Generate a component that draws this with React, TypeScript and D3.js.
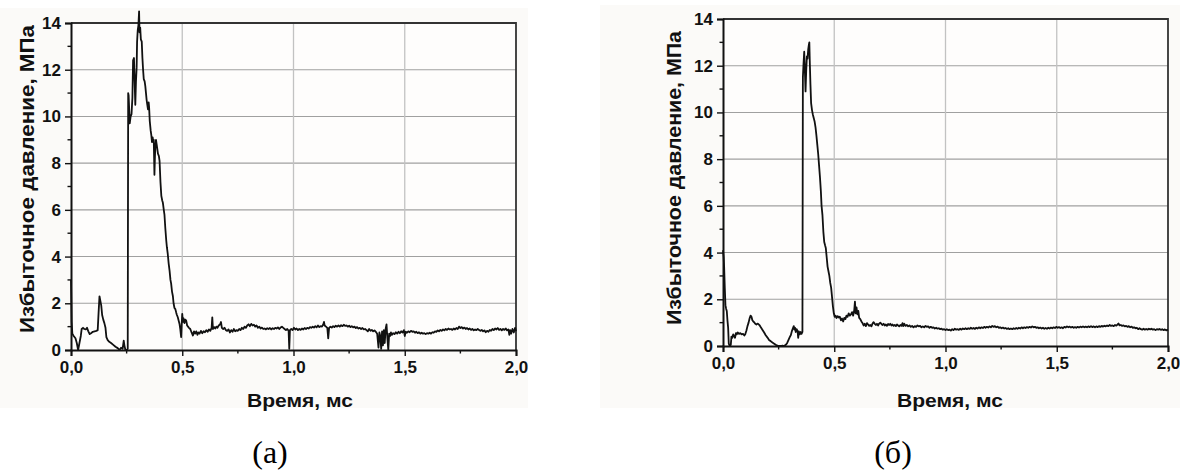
import * as d3 from "d3";
import { useEffect, useRef } from "react";

// time (ms), overpressure (MPa) pairs
const seriesA: [number, number][] = [
  [0, 3.0], [0.003, 1.2], [0.006, 0.7], [0.012, 0.6], [0.02, 0.5], [0.026, 0.3], [0.032, 0.0], [0.038, 0.3],
  [0.044, 0.6], [0.048, 0.9], [0.054, 0.95], [0.06, 0.9], [0.066, 0.88], [0.072, 0.95], [0.078, 0.8], [0.084, 0.68],
  [0.09, 0.72], [0.098, 0.78], [0.106, 0.8], [0.114, 0.82], [0.12, 0.85], [0.124, 1.6], [0.128, 2.3], [0.132, 2.1],
  [0.136, 1.9], [0.14, 1.5], [0.145, 1.3], [0.15, 1.15], [0.155, 0.95], [0.159, 0.55], [0.165, 0.42], [0.172, 0.35],
  [0.18, 0.3], [0.19, 0.22], [0.2, 0.14], [0.21, 0.08], [0.218, 0.0], [0.225, 0.1], [0.232, 0.05], [0.237, 0.4],
  [0.24, 0.2], [0.244, 0.02], [0.25, 0.0], [0.255, 0.05],
  [0.257, 11.0], [0.259, 10.9], [0.262, 10.2], [0.264, 9.7], [0.268, 10.0], [0.272, 10.1], [0.276, 10.8], [0.279, 12.4],
  [0.283, 12.5], [0.286, 11.5], [0.289, 10.5], [0.292, 11.5], [0.295, 12.1], [0.297, 13.2], [0.3, 13.7], [0.303, 13.9],
  [0.306, 14.5], [0.308, 13.6], [0.311, 13.8], [0.314, 13.3], [0.318, 13.2], [0.321, 12.5], [0.324, 12.0], [0.327, 11.6],
  [0.331, 11.5], [0.334, 11.3], [0.337, 11.0], [0.34, 10.7], [0.343, 10.5], [0.346, 10.3], [0.349, 10.6], [0.351, 10.4],
  [0.354, 9.8], [0.358, 9.4], [0.361, 9.2], [0.364, 8.9], [0.367, 9.1], [0.37, 8.9], [0.372, 9.0], [0.375, 7.5],
  [0.377, 8.2], [0.379, 8.7], [0.382, 9.0], [0.385, 8.8], [0.388, 8.6], [0.391, 8.4], [0.395, 8.3], [0.398, 8.1],
  [0.402, 7.2], [0.406, 6.6], [0.41, 6.4], [0.413, 6.3], [0.417, 6.0], [0.42, 5.8], [0.424, 5.2], [0.428, 4.7],
  [0.431, 4.4], [0.435, 4.1], [0.439, 3.7], [0.443, 3.4], [0.447, 3.0], [0.45, 2.85], [0.454, 2.5], [0.458, 2.3],
  [0.461, 2.0], [0.465, 1.8], [0.469, 1.75], [0.473, 1.6], [0.476, 1.5], [0.48, 1.4], [0.484, 1.25], [0.488, 1.1],
  [0.491, 0.9], [0.495, 0.55], [0.498, 1.2], [0.5, 1.55], [0.503, 1.2], [0.506, 1.35], [0.51, 1.15], [0.514, 1.3],
  [0.518, 1.25], [0.522, 1.05], [0.526, 1.0], [0.53, 0.95], [0.536, 0.9], [0.542, 0.75], [0.548, 0.62], [0.553, 0.8],
  [0.558, 0.7], [0.563, 0.8], [0.568, 0.65], [0.573, 0.75], [0.578, 0.7], [0.584, 0.82], [0.59, 0.72], [0.596, 0.8],
  [0.602, 0.76], [0.608, 0.85], [0.614, 0.78], [0.62, 0.88], [0.626, 0.82], [0.632, 0.95], [0.635, 1.4], [0.638, 0.9],
  [0.643, 0.98], [0.648, 0.92], [0.653, 1.0], [0.658, 0.95], [0.664, 1.05], [0.67, 1.1], [0.674, 1.2], [0.678, 0.95],
  [0.684, 0.9], [0.69, 0.95], [0.696, 0.85], [0.702, 0.82], [0.708, 0.88], [0.714, 0.75], [0.72, 0.85], [0.726, 0.78],
  [0.732, 0.9], [0.738, 0.8], [0.744, 0.85], [0.75, 0.82], [0.756, 0.9], [0.762, 0.85], [0.768, 0.95], [0.774, 0.9],
  [0.78, 1.0], [0.786, 0.95], [0.792, 1.05], [0.798, 1.1], [0.804, 1.02], [0.81, 1.12], [0.816, 1.05], [0.822, 1.08],
  [0.828, 1.0], [0.834, 1.05], [0.84, 0.95], [0.846, 1.0], [0.852, 0.92], [0.858, 0.96], [0.864, 0.9], [0.87, 0.92],
  [0.876, 0.88], [0.882, 0.93], [0.888, 0.9], [0.894, 0.94], [0.9, 0.88], [0.906, 0.93], [0.912, 0.9], [0.918, 0.95],
  [0.924, 0.92], [0.93, 0.97], [0.936, 0.9], [0.942, 0.96], [0.948, 1.0], [0.954, 0.95], [0.96, 0.9], [0.966, 0.85],
  [0.972, 0.9], [0.978, 0.82], [0.981, 0.05], [0.984, 0.85], [0.99, 0.9], [0.996, 0.85], [1.002, 0.95], [1.008, 0.88],
  [1.014, 0.92], [1.02, 0.85], [1.026, 0.9], [1.032, 0.86], [1.038, 0.92], [1.044, 0.88], [1.05, 0.94], [1.056, 0.9],
  [1.062, 0.95], [1.068, 0.92], [1.074, 0.98], [1.08, 0.95], [1.086, 1.0], [1.092, 0.96], [1.098, 1.02], [1.104, 0.97],
  [1.11, 1.05], [1.116, 0.98], [1.122, 1.02], [1.128, 1.0], [1.134, 1.1], [1.137, 1.2], [1.14, 1.05], [1.146, 1.0],
  [1.152, 0.95], [1.156, 0.5], [1.16, 0.95], [1.166, 1.0], [1.172, 0.96], [1.178, 1.02], [1.184, 0.98], [1.19, 1.04],
  [1.196, 1.0], [1.202, 1.05], [1.208, 1.0], [1.214, 1.06], [1.22, 1.02], [1.226, 1.08], [1.232, 1.03], [1.238, 1.05],
  [1.244, 1.0], [1.25, 1.04], [1.256, 0.98], [1.262, 1.02], [1.268, 0.97], [1.274, 1.0], [1.28, 0.94], [1.286, 0.98],
  [1.292, 0.92], [1.298, 0.95], [1.304, 0.9], [1.31, 0.94], [1.316, 0.88], [1.322, 0.9], [1.328, 0.85], [1.334, 0.8],
  [1.34, 0.9], [1.346, 0.82], [1.352, 0.86], [1.358, 0.8], [1.364, 0.84], [1.37, 0.78], [1.376, 0.7], [1.382, 0.1],
  [1.386, 0.75], [1.39, 0.6], [1.394, 0.05], [1.398, 0.8], [1.402, 0.2], [1.406, 0.85], [1.41, 0.3], [1.414, 0.9],
  [1.418, 1.1], [1.422, 0.5], [1.426, 0.0], [1.43, 0.7], [1.434, 0.6], [1.438, 0.75], [1.442, 0.65], [1.448, 0.72],
  [1.454, 0.68], [1.46, 0.76], [1.466, 0.7], [1.472, 0.78], [1.478, 0.72], [1.484, 0.8], [1.49, 0.75], [1.496, 0.85],
  [1.5, 0.6], [1.504, 0.78], [1.51, 0.74], [1.516, 0.8], [1.522, 0.76], [1.528, 0.82], [1.534, 0.78], [1.54, 0.8],
  [1.546, 0.74], [1.552, 0.78], [1.558, 0.72], [1.564, 0.76], [1.57, 0.7], [1.576, 0.74], [1.582, 0.7], [1.588, 0.72],
  [1.594, 0.68], [1.6, 0.72], [1.606, 0.7], [1.612, 0.74], [1.618, 0.7], [1.624, 0.76], [1.63, 0.74], [1.636, 0.8],
  [1.642, 0.78], [1.648, 0.84], [1.654, 0.8], [1.66, 0.86], [1.666, 0.82], [1.672, 0.88], [1.678, 0.84], [1.684, 0.9],
  [1.69, 0.86], [1.696, 0.92], [1.702, 0.88], [1.708, 0.9], [1.714, 0.86], [1.72, 0.92], [1.726, 0.88], [1.732, 0.94],
  [1.738, 0.9], [1.744, 1.0], [1.75, 0.94], [1.756, 0.98], [1.762, 0.92], [1.768, 0.96], [1.774, 0.9], [1.78, 0.94],
  [1.786, 0.88], [1.792, 0.92], [1.798, 0.86], [1.804, 0.9], [1.81, 0.84], [1.816, 0.88], [1.822, 0.85], [1.828, 0.9],
  [1.834, 0.86], [1.84, 0.82], [1.846, 0.86], [1.852, 0.8], [1.858, 0.84], [1.864, 0.76], [1.87, 0.82], [1.876, 0.78],
  [1.882, 0.86], [1.888, 0.82], [1.894, 0.9], [1.9, 0.85], [1.906, 0.92], [1.912, 0.88], [1.918, 0.94], [1.924, 0.86],
  [1.93, 0.9], [1.936, 0.84], [1.942, 0.9], [1.948, 0.86], [1.954, 0.92], [1.96, 0.84], [1.966, 0.88], [1.97, 0.65],
  [1.974, 0.85], [1.978, 0.7], [1.984, 0.9], [1.99, 0.75], [1.996, 0.95], [2.0, 0.8],
];

const seriesB: [number, number][] = [
  [0, 4.1], [0.003, 3.8], [0.005, 3.4], [0.008, 2.5], [0.011, 1.75], [0.014, 1.6], [0.017, 1.5], [0.02, 1.1],
  [0.023, 0.8], [0.026, 0.1], [0.03, 0.0], [0.035, 0.05], [0.038, 0.4], [0.042, 0.35], [0.046, 0.5], [0.05, 0.42],
  [0.054, 0.35], [0.058, 0.55], [0.062, 0.5], [0.066, 0.58], [0.072, 0.52], [0.078, 0.55], [0.084, 0.5], [0.09, 0.52],
  [0.096, 0.45], [0.1, 0.5], [0.105, 0.65], [0.11, 0.85], [0.115, 1.0], [0.12, 1.2], [0.124, 1.3], [0.128, 1.25],
  [0.132, 1.1], [0.136, 1.05], [0.14, 1.02], [0.145, 0.95], [0.15, 0.92], [0.155, 0.96], [0.16, 0.93], [0.165, 0.88],
  [0.17, 0.8], [0.177, 0.7], [0.185, 0.58], [0.192, 0.46], [0.2, 0.36], [0.207, 0.26], [0.215, 0.2], [0.222, 0.15],
  [0.23, 0.1], [0.237, 0.05], [0.245, 0.02], [0.252, 0.0], [0.26, 0.0], [0.267, 0.02], [0.275, 0.0], [0.282, 0.05],
  [0.288, 0.12], [0.294, 0.25], [0.3, 0.38], [0.305, 0.47], [0.31, 0.65], [0.315, 0.78], [0.318, 0.85], [0.321, 0.7],
  [0.324, 0.78], [0.327, 0.6], [0.331, 0.72], [0.335, 0.65], [0.338, 0.35], [0.341, 0.62], [0.345, 0.5], [0.349, 0.6],
  [0.353, 0.52], [0.357, 0.6],
  [0.359, 11.5], [0.362, 12.1], [0.365, 12.6], [0.368, 11.8], [0.371, 10.9], [0.374, 11.8], [0.377, 12.4], [0.38, 12.3],
  [0.383, 12.7], [0.386, 12.9], [0.388, 13.0], [0.39, 12.2], [0.393, 11.2], [0.396, 10.4], [0.4, 10.1], [0.404, 9.9],
  [0.408, 9.75], [0.412, 9.6], [0.416, 9.35], [0.42, 9.0], [0.424, 8.6], [0.428, 8.2], [0.432, 7.7], [0.436, 7.2],
  [0.44, 6.6], [0.443, 6.0], [0.447, 5.6], [0.451, 4.9], [0.455, 4.45], [0.459, 4.3], [0.462, 4.2], [0.466, 3.8],
  [0.47, 3.4], [0.474, 3.2], [0.478, 3.0], [0.482, 2.7], [0.486, 2.5], [0.49, 2.1], [0.494, 1.7], [0.498, 1.4],
  [0.502, 1.25], [0.506, 1.3], [0.51, 1.2], [0.515, 1.28], [0.52, 1.22], [0.525, 1.25], [0.53, 1.1], [0.535, 1.18],
  [0.54, 1.05], [0.545, 1.2], [0.55, 1.15], [0.555, 1.3], [0.56, 1.25], [0.565, 1.4], [0.57, 1.3], [0.575, 1.35],
  [0.58, 1.45], [0.585, 1.3], [0.59, 1.55], [0.593, 1.9], [0.596, 1.4], [0.6, 1.65], [0.604, 1.35], [0.608, 1.5],
  [0.612, 1.2], [0.617, 1.15], [0.622, 1.05], [0.627, 0.98], [0.632, 0.88], [0.637, 0.95], [0.642, 0.85], [0.647, 0.98],
  [0.652, 0.92], [0.657, 0.86], [0.662, 0.9], [0.667, 0.84], [0.672, 0.96], [0.677, 1.02], [0.682, 0.95], [0.687, 0.9],
  [0.692, 0.95], [0.697, 0.88], [0.702, 0.96], [0.707, 1.0], [0.712, 0.94], [0.717, 0.9], [0.722, 0.95], [0.727, 0.88],
  [0.732, 0.92], [0.737, 0.86], [0.742, 0.94], [0.747, 0.9], [0.752, 0.95], [0.757, 0.88], [0.762, 0.92], [0.767, 0.86],
  [0.772, 0.9], [0.777, 0.85], [0.782, 0.92], [0.787, 0.88], [0.792, 0.84], [0.797, 0.9], [0.802, 0.86], [0.807, 0.98],
  [0.81, 0.85], [0.815, 0.95], [0.82, 0.86], [0.826, 0.9], [0.832, 0.84], [0.838, 0.88], [0.844, 0.82], [0.85, 0.86],
  [0.856, 0.8], [0.862, 0.85], [0.868, 0.82], [0.874, 0.88], [0.88, 0.84], [0.886, 0.86], [0.892, 0.8], [0.898, 0.84],
  [0.904, 0.8], [0.91, 0.86], [0.916, 0.82], [0.922, 0.84], [0.928, 0.78], [0.934, 0.82], [0.94, 0.78], [0.946, 0.8],
  [0.952, 0.75], [0.958, 0.78], [0.964, 0.74], [0.97, 0.76], [0.976, 0.72], [0.982, 0.74], [0.988, 0.7], [0.994, 0.72],
  [1.0, 0.68], [1.006, 0.72], [1.012, 0.68], [1.018, 0.7], [1.024, 0.66], [1.03, 0.72], [1.036, 0.68], [1.042, 0.74],
  [1.048, 0.7], [1.054, 0.72], [1.06, 0.69], [1.066, 0.74], [1.072, 0.7], [1.078, 0.75], [1.084, 0.72], [1.09, 0.76],
  [1.096, 0.72], [1.102, 0.76], [1.108, 0.73], [1.114, 0.78], [1.12, 0.74], [1.126, 0.77], [1.132, 0.73], [1.138, 0.78],
  [1.144, 0.75], [1.15, 0.8], [1.156, 0.76], [1.162, 0.8], [1.168, 0.77], [1.174, 0.82], [1.18, 0.78], [1.186, 0.82],
  [1.192, 0.79], [1.198, 0.84], [1.204, 0.8], [1.21, 0.86], [1.216, 0.82], [1.222, 0.85], [1.228, 0.8], [1.234, 0.83],
  [1.24, 0.78], [1.246, 0.8], [1.252, 0.76], [1.258, 0.79], [1.264, 0.75], [1.27, 0.77], [1.276, 0.73], [1.282, 0.76],
  [1.288, 0.72], [1.294, 0.75], [1.3, 0.72], [1.306, 0.76], [1.312, 0.73], [1.318, 0.77], [1.324, 0.74], [1.33, 0.78],
  [1.336, 0.75], [1.342, 0.8], [1.348, 0.76], [1.354, 0.8], [1.36, 0.77], [1.366, 0.81], [1.372, 0.78], [1.378, 0.82],
  [1.384, 0.79], [1.39, 0.84], [1.396, 0.8], [1.402, 0.82], [1.408, 0.78], [1.414, 0.8], [1.42, 0.76], [1.426, 0.79],
  [1.432, 0.75], [1.438, 0.78], [1.444, 0.74], [1.45, 0.77], [1.456, 0.74], [1.462, 0.78], [1.468, 0.75], [1.474, 0.79],
  [1.48, 0.76], [1.486, 0.8], [1.492, 0.77], [1.498, 0.82], [1.504, 0.78], [1.51, 0.81], [1.516, 0.77], [1.522, 0.8],
  [1.528, 0.76], [1.534, 0.82], [1.54, 0.79], [1.546, 0.84], [1.552, 0.8], [1.558, 0.83], [1.564, 0.79], [1.57, 0.82],
  [1.576, 0.78], [1.582, 0.81], [1.588, 0.78], [1.594, 0.82], [1.6, 0.79], [1.606, 0.83], [1.612, 0.8], [1.618, 0.84],
  [1.624, 0.8], [1.63, 0.83], [1.636, 0.8], [1.642, 0.84], [1.648, 0.81], [1.654, 0.85], [1.66, 0.81], [1.666, 0.84],
  [1.672, 0.8], [1.678, 0.84], [1.684, 0.81], [1.69, 0.85], [1.696, 0.82], [1.702, 0.86], [1.708, 0.83], [1.714, 0.87],
  [1.72, 0.84], [1.726, 0.88], [1.732, 0.85], [1.738, 0.9], [1.744, 0.86], [1.75, 0.88], [1.756, 0.85], [1.762, 0.9],
  [1.768, 0.87], [1.774, 0.93], [1.778, 0.96], [1.782, 0.88], [1.788, 0.9], [1.794, 0.86], [1.8, 0.88], [1.806, 0.84],
  [1.812, 0.86], [1.818, 0.82], [1.824, 0.85], [1.83, 0.8], [1.836, 0.83], [1.842, 0.78], [1.848, 0.8], [1.854, 0.76],
  [1.86, 0.78], [1.866, 0.72], [1.872, 0.76], [1.878, 0.72], [1.884, 0.7], [1.89, 0.74], [1.896, 0.7], [1.902, 0.73],
  [1.908, 0.7], [1.914, 0.74], [1.92, 0.71], [1.926, 0.74], [1.932, 0.7], [1.938, 0.72], [1.944, 0.68], [1.95, 0.72],
  [1.956, 0.7], [1.962, 0.73], [1.968, 0.69], [1.974, 0.72], [1.98, 0.68], [1.986, 0.71], [1.992, 0.67], [2.0, 0.7],
];

const xTicks = [0, 0.5, 1.0, 1.5, 2.0];
const xMinorTicks = [0.25, 0.75, 1.25, 1.75];
const yTicks = [0, 2, 4, 6, 8, 10, 12, 14];
const yMinorTicks = [1, 3, 5, 7, 9, 11, 13];

const Y_TITLE = "Избыточное давление, МПа";
const X_TITLE = "Время, мс";
const CAPTIONS = ["(а)", "(б)"];

const SANS = "'Liberation Sans', Arial, sans-serif";
const SERIF = "'Liberation Serif', 'Times New Roman', serif";
const INK = "#111";

const fmt = (v: number) => v.toFixed(1).replace(".", ",");

function drawPanel(root: any, data: [number, number][], p: any) {
  const x = d3.scaleLinear().domain([0, 2]).range([p.left, p.right]);
  const y = d3.scaleLinear().domain([0, 14]).range([p.bottom, p.top]);
  const g = root.append("g");

  // faint page tint behind the scanned plot
  g.append("rect")
    .attr("x", p.bgX).attr("y", p.bgY).attr("width", p.bgW).attr("height", p.bgH)
    .attr("fill", "#fbfaf8");
  g.append("rect")
    .attr("x", p.left).attr("y", p.top)
    .attr("width", p.right - p.left).attr("height", p.bottom - p.top)
    .attr("fill", "#fefdfc");

  // grid
  g.selectAll(".hg").data(yTicks.filter((v) => v > 0 && v < 14)).enter()
    .append("line")
    .attr("x1", p.left).attr("x2", p.right)
    .attr("y1", (d: number) => y(d)).attr("y2", (d: number) => y(d))
    .attr("stroke", "#a0a0a0").attr("stroke-width", 1.1);
  g.selectAll(".vg").data(xTicks.filter((v) => v > 0 && v < 2)).enter()
    .append("line")
    .attr("x1", (d: number) => x(d)).attr("x2", (d: number) => x(d))
    .attr("y1", p.top).attr("y2", p.bottom)
    .attr("stroke", "#c2c2c2").attr("stroke-width", 1.3);

  // frame top / right
  g.append("path")
    .attr("d", `M${p.left},${p.top}H${p.right}V${p.bottom}`)
    .attr("fill", "none").attr("stroke", "#333").attr("stroke-width", 1.8);

  // curve
  const line = d3.line<[number, number]>()
    .x((d) => x(d[0]))
    .y((d) => y(d[1]));
  g.append("path")
    .datum(data)
    .attr("d", line)
    .attr("fill", "none")
    .attr("stroke", INK)
    .attr("stroke-width", 1.8)
    .attr("stroke-linejoin", "round");

  // axes
  const xAxis = d3.axisBottom(x).tickValues(xTicks).tickSize(6).tickPadding(5).tickFormat((d: any) => fmt(d));
  const xg = g.append("g").attr("transform", `translate(0,${p.bottom})`).call(xAxis);
  xg.select(".domain").attr("stroke", INK).attr("stroke-width", 2);
  xg.selectAll("line").attr("stroke", INK).attr("stroke-width", 1.4);
  xg.selectAll("text")
    .attr("font-family", SANS).attr("font-weight", "bold").attr("font-size", 17).attr("fill", INK);
  g.selectAll(".xm").data(xMinorTicks).enter()
    .append("line")
    .attr("x1", (d: number) => x(d)).attr("x2", (d: number) => x(d))
    .attr("y1", p.bottom).attr("y2", p.bottom + 3.5)
    .attr("stroke", INK).attr("stroke-width", 1.4);

  const yAxis = d3.axisLeft(y).tickValues(yTicks).tickSize(6).tickPadding(4).tickFormat((d: any) => `${d}`);
  const yg = g.append("g").attr("transform", `translate(${p.left},0)`).call(yAxis);
  yg.select(".domain").attr("stroke", INK).attr("stroke-width", 2);
  yg.selectAll("line").attr("stroke", INK).attr("stroke-width", 1.4);
  yg.selectAll("text")
    .attr("font-family", SANS).attr("font-weight", "bold").attr("font-size", 17).attr("fill", INK);
  g.selectAll(".ym").data(yMinorTicks).enter()
    .append("line")
    .attr("x1", p.left - 3.5).attr("x2", p.left)
    .attr("y1", (d: number) => y(d)).attr("y2", (d: number) => y(d))
    .attr("stroke", INK).attr("stroke-width", 1.4);

  // titles
  g.append("text")
    .attr("transform", `translate(${p.yTitleX},${p.yTitleY}) rotate(-90)`)
    .attr("text-anchor", "middle")
    .attr("font-family", SANS).attr("font-weight", "bold").attr("font-size", 20)
    .attr("fill", INK)
    .attr("textLength", p.yTitleLen).attr("lengthAdjust", "spacingAndGlyphs")
    .text(Y_TITLE);
  g.append("text")
    .attr("x", p.xTitleX).attr("y", p.xTitleY)
    .attr("text-anchor", "middle")
    .attr("font-family", SANS).attr("font-weight", "bold").attr("font-size", 18)
    .attr("fill", INK)
    .attr("textLength", 106).attr("lengthAdjust", "spacingAndGlyphs")
    .text(X_TITLE);

  root.append("text")
    .attr("x", p.capX).attr("y", 463)
    .attr("text-anchor", "middle")
    .attr("font-family", SERIF).attr("font-size", 32).attr("fill", "#000")
    .text(p.caption);
}

const PressurePanels = () => {
  const svgRef = useRef(null);

  useEffect(() => {
    const svg = d3.select(svgRef.current);
    svg.selectAll("*").remove();
    svg.append("rect").attr("width", 1180).attr("height", 472).attr("fill", "#fff");

    drawPanel(svg, seriesA, {
      left: 71, right: 516, top: 23, bottom: 350,
      bgX: 0, bgY: 8, bgW: 528, bgH: 400,
      yTitleX: 34, yTitleY: 179, yTitleLen: 308,
      xTitleX: 300, xTitleY: 407,
      capX: 270, caption: CAPTIONS[0],
    });
    drawPanel(svg, seriesB, {
      left: 723, right: 1168, top: 19, bottom: 346,
      bgX: 600, bgY: 5, bgW: 580, bgH: 403,
      yTitleX: 681, yTitleY: 178, yTitleLen: 294,
      xTitleX: 950, xTitleY: 407,
      capX: 893, caption: CAPTIONS[1],
    });
  }, []);

  return (
    <svg
      ref={svgRef}
      width={1180}
      height={472}
      style={{ position: "absolute", left: 0, top: 0 }}
    />
  );
};

export default function App() {
  return <PressurePanels />;
}
